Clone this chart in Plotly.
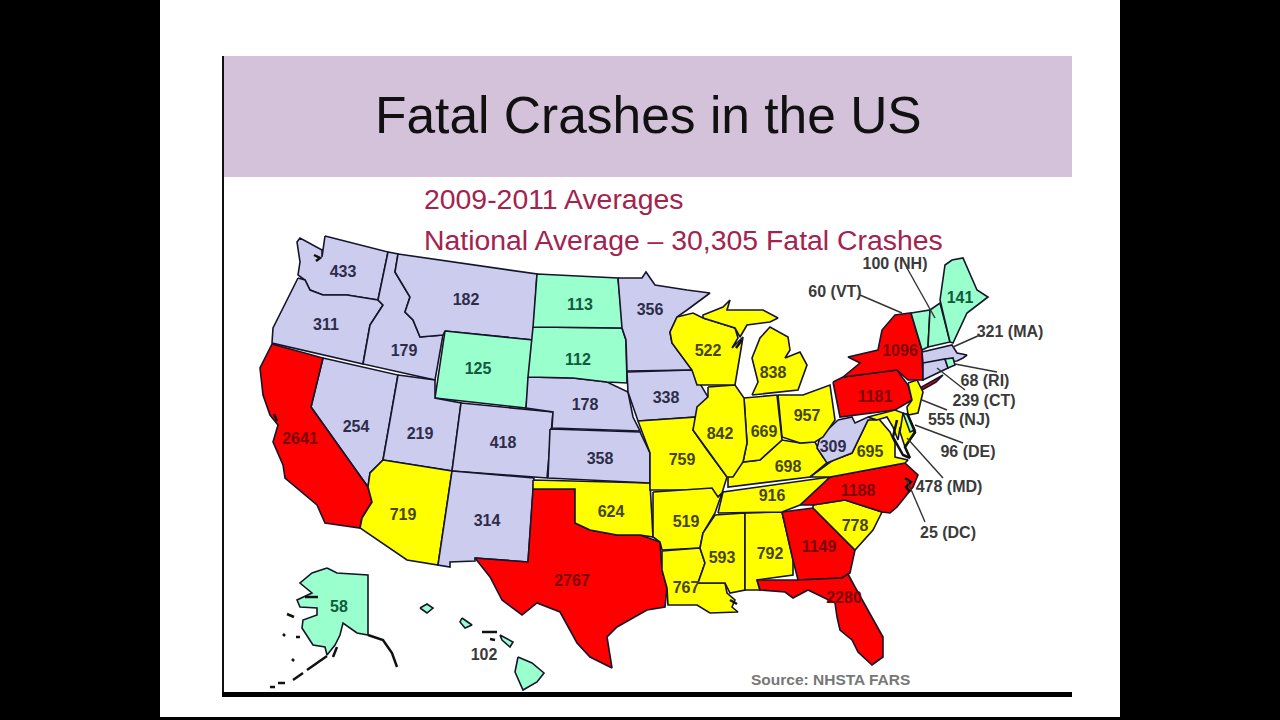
import plotly.graph_objects as go

# values
state_codes = ["WA", "OR", "CA", "NV", "ID", "MT", "WY", "UT", "CO", "AZ", "NM", "ND", "SD", "NE", "KS", "OK", "TX",
               "MN", "IA", "MO", "AR", "LA", "WI", "IL", "MS", "MI", "IN", "KY", "TN", "AL", "OH", "GA", "FL", "SC",
               "NC", "VA", "WV", "PA", "NY", "ME", "AK", "HI"]
state_values = [433, 311, 2641, 254, 179, 182, 125, 219, 418, 719, 314, 113, 112, 178, 358, 624, 2767,
                356, 338, 759, 519, 767, 522, 842, 593, 838, 669, 698, 916, 792, 957, 1149, 2280, 778,
                1188, 695, 309, 1181, 1096, 141, 58, 102]
label_x = [343, 326, 300, 356, 404, 466, 478, 420, 503, 403, 487, 580, 578, 585, 600, 611, 572,
           650, 666, 682, 686, 686, 708, 720, 722, 773, 764, 788, 772, 770, 807, 819, 844, 855,
           858, 870, 833, 875, 900, 960, 339, 484]
label_y = [273, 326, 440, 428, 352, 301, 370, 435, 444, 516, 522, 306, 361, 406, 460, 513, 582,
           311, 399, 461, 523, 589, 352, 435, 559, 374, 433, 468, 497, 555, 417, 548, 599, 527,
           492, 453, 448, 398, 352, 299, 608, 656]

small_states = ["NH", "VT", "MA", "RI", "CT", "NJ", "DE", "MD", "DC"]
small_values = [100, 60, 321, 68, 239, 555, 96, 478, 25]
small_x = [895, 835, 1010, 985, 984, 959, 968, 949, 948]
small_y = [265, 293, 333, 382, 402, 421, 453, 488, 534]

# leader lines: label end, state end
leader_x = [(907, 935), (860, 902), (980, 953), (997, 955), (965, 937), (947, 922), (963, 915), (943, 907), (925, 907)]
leader_y = [(268, 318), (295, 313), (335, 347), (372, 364), (390, 368), (410, 400), (443, 425), (478, 438), (522, 480)]

GREEN = "#99FFCC"
LAVENDER = "#CCCCEE"
YELLOW = "#FFFF00"
RED = "#FF0000"
EDGE = "#15152b"

# state outlines (no map file can be loaded without network)
OUTLINES = {
    "WA": [(325, 236), (388, 252), (378, 300), (347, 295), (323, 295), (310, 290), (305, 280), (298, 275), (300, 262),
           (297, 242), (300, 238), (322, 250), (322, 257)],
    "OR": [(298, 278), (305, 280), (310, 290), (323, 295), (347, 295), (378, 300), (383, 305), (370, 325), (363, 364),
           (272, 343), (273, 328), (283, 308)],
    "ID": [(388, 252), (398, 254), (395, 272), (410, 297), (405, 312), (413, 320), (420, 337), (443, 335), (435, 380),
           (363, 364), (370, 325), (383, 305), (378, 300)],
    "MT": [(398, 254), (537, 274), (533, 340), (445, 331), (443, 335), (420, 337), (413, 320), (405, 312), (410, 297),
           (395, 272)],
    "WY": [(445, 331), (533, 340), (526, 408), (435, 398)],
    "NV": [(323, 358), (398, 375), (383, 460), (370, 473), (368, 487), (311, 407)],
    "CA": [(272, 344), (323, 358), (311, 407), (368, 487), (372, 502), (362, 518), (360, 528), (325, 523), (317, 505),
           (297, 488), (285, 478), (283, 465), (273, 442), (278, 425), (270, 415), (263, 395), (260, 368)],
    "UT": [(398, 375), (435, 380), (435, 398), (461, 403), (452, 471), (383, 460)],
    "CO": [(461, 403), (553, 412), (547, 478), (452, 471)],
    "AZ": [(383, 460), (452, 471), (438, 565), (407, 560), (360, 528), (362, 518), (372, 502), (368, 487), (370, 473)],
    "NM": [(452, 471), (534, 478), (528, 562), (475, 558), (475, 561), (450, 562), (450, 567), (438, 565)],
    "TX": [(533, 489), (575, 489), (575, 523), (590, 530), (617, 535), (640, 535), (660, 542), (662, 570), (667, 588),
           (665, 607), (647, 610), (617, 627), (607, 637), (612, 668), (590, 657), (577, 643), (560, 612), (537, 603),
           (522, 615), (502, 600), (490, 577), (475, 558), (528, 562)],
    "OK": [(533, 480), (650, 483), (653, 537), (640, 535), (617, 535), (590, 530), (575, 523), (575, 489), (533, 489)],
    "KS": [(550, 429), (640, 432), (650, 453), (650, 483), (548, 478)],
    "NE": [(528, 377), (526, 408), (553, 412), (552, 428), (640, 431), (633, 417), (628, 392), (607, 382), (573, 378)],
    "SD": [(533, 327), (528, 377), (573, 378), (607, 382), (627, 383), (626, 340), (622, 328)],
    "ND": [(537, 274), (618, 278), (623, 328), (533, 327)],
    "MN": [(618, 278), (642, 278), (646, 272), (655, 285), (687, 290), (710, 293), (687, 310), (677, 317), (670, 332),
           (672, 343), (692, 370), (627, 371), (626, 340), (622, 328)],
    "IA": [(627, 372), (692, 370), (708, 397), (698, 407), (697, 417), (638, 421), (628, 392)],
    "MO": [(638, 421), (697, 417), (693, 430), (707, 450), (727, 477), (722, 493), (718, 497), (712, 490), (650, 490),
           (650, 453)],
    "AR": [(653, 492), (712, 488), (718, 497), (722, 493), (715, 513), (703, 533), (700, 548), (662, 550), (660, 542),
           (653, 537)],
    "LA": [(662, 551), (700, 548), (705, 563), (698, 583), (725, 583), (727, 593), (735, 600), (732, 607), (738, 612),
           (710, 613), (697, 605), (668, 605), (667, 588), (662, 570)],
    "MS": [(715, 515), (745, 513), (745, 590), (730, 593), (725, 583), (698, 583), (705, 563), (700, 548), (703, 533)],
    "AL": [(745, 513), (782, 512), (793, 560), (793, 575), (757, 580), (760, 590), (750, 590), (745, 590)],
    "GA": [(782, 512), (813, 508), (855, 550), (850, 573), (842, 578), (798, 580), (793, 560)],
    "FL": [(757, 580), (798, 580), (842, 578), (848, 574), (855, 587), (868, 610), (883, 637), (883, 657), (872, 665),
           (858, 652), (852, 640), (840, 630), (837, 617), (835, 603), (822, 597), (808, 590), (793, 598), (785, 592),
           (760, 590)],
    "SC": [(813, 505), (845, 500), (882, 512), (873, 530), (855, 550), (813, 508)],
    "NC": [(800, 505), (830, 477), (905, 463), (918, 475), (913, 487), (897, 507), (890, 513), (882, 512), (845, 500),
           (813, 505)],
    "TN": [(718, 513), (723, 492), (830, 477), (800, 505), (782, 512), (745, 513)],
    "KY": [(728, 478), (743, 462), (760, 460), (782, 440), (800, 443), (815, 442), (823, 457), (830, 460), (810, 477),
           (728, 487)],
    "VA": [(810, 477), (833, 460), (852, 453), (868, 420), (878, 418), (890, 432), (895, 443), (895, 457), (908, 460),
           (905, 463), (830, 477)],
    "WV": [(838, 420), (852, 417), (855, 423), (868, 417), (877, 420), (868, 420), (852, 453), (827, 463), (817, 448),
           (820, 437)],
    "OH": [(778, 395), (803, 395), (830, 385), (835, 420), (823, 437), (815, 442), (800, 443), (782, 437)],
    "IN": [(744, 398), (777, 395), (782, 440), (760, 460), (743, 462), (747, 443)],
    "IL": [(708, 387), (735, 385), (744, 398), (747, 443), (743, 462), (733, 477), (727, 477), (707, 450), (693, 430),
           (697, 407), (708, 397)],
    "WI": [(677, 317), (693, 313), (703, 318), (735, 328), (738, 338), (732, 348), (743, 337), (735, 385), (697, 385),
           (692, 370), (672, 343), (670, 332)],
    "MI": [(752, 395), (758, 382), (752, 358), (760, 338), (770, 327), (788, 337), (790, 350), (785, 358), (800, 352),
           (807, 365), (798, 390)],
    "MI2": [(703, 318), (703, 315), (723, 307), (730, 300), (727, 310), (763, 310), (778, 318), (770, 322), (747, 325),
            (740, 337), (735, 328)],
    "PA": [(833, 382), (843, 377), (897, 370), (908, 385), (912, 400), (895, 410), (840, 417)],
    "NY": [(843, 377), (860, 363), (848, 357), (878, 350), (882, 330), (895, 315), (911, 313), (922, 350), (923, 380),
           (908, 380), (897, 370)],
    "NY2": [(920, 388), (943, 375), (936, 382), (922, 390)],
    "VT": [(911, 313), (930, 310), (928, 347), (922, 350)],
    "NH": [(930, 310), (940, 303), (950, 342), (928, 347)],
    "ME": [(940, 300), (945, 265), (952, 260), (963, 258), (977, 290), (988, 297), (967, 313), (953, 343), (950, 342)],
    "MA": [(922, 352), (952, 345), (957, 353), (967, 355), (963, 358), (957, 361), (923, 363)],
    "CT": [(923, 363), (945, 359), (948, 368), (923, 380)],
    "RI": [(945, 359), (953, 358), (955, 365), (948, 368)],
    "NJ": [(908, 383), (917, 380), (923, 392), (918, 413), (908, 415), (907, 407), (912, 400)],
    "MD": [(868, 417), (895, 410), (903, 413), (910, 432), (915, 433), (912, 437), (900, 427), (898, 440), (893, 427),
           (887, 417), (877, 420)],
    "MD2": [(903, 413), (915, 432), (905, 447), (900, 432)],
    "DE": [(903, 413), (908, 415), (915, 430), (910, 432)],
    "AK": [(327, 568), (337, 573), (368, 575), (368, 635), (357, 633), (343, 623), (340, 635), (335, 645), (327, 655),
           (325, 647), (313, 645), (302, 628), (303, 620), (317, 615), (317, 608), (300, 607), (297, 600), (312, 593),
           (300, 583), (312, 573)],
    "HI": [(518, 657), (532, 663), (544, 673), (537, 682), (523, 690), (515, 672)],
    "HI2": [(500, 635), (513, 642), (510, 647), (502, 640)],
    "HI3": [(462, 618), (472, 625), (465, 628), (460, 622)],
    "HI4": [(420, 608), (427, 604), (433, 608), (427, 613)],
}

# bits of coast that are only a dark line in the picture
coast_lines = [
    [(368, 635), (383, 640), (392, 653), (397, 667)],
    [(327, 656), (307, 670)],
    [(303, 673), (293, 680)],
    [(285, 683), (278, 683)],
    [(275, 687), (270, 687)],
    [(287, 614), (294, 617)],
    [(283, 634), (285, 636)],
    [(296, 637), (300, 637)],
    [(292, 659), (294, 661)],
    [(333, 657), (337, 647)],
    [(305, 597), (318, 597)],
    [(482, 632), (497, 632)],
    [(490, 639), (495, 640)],
    [(314, 255), (320, 258), (316, 261)],
    [(274, 414), (277, 421)],
    [(897, 420), (893, 437), (903, 455), (910, 458)],
    [(907, 413), (915, 432), (905, 447), (910, 458)],
    [(905, 478), (911, 482), (906, 487), (910, 492)],
    [(730, 600), (737, 604)],
    [(736, 348), (742, 340)],
]


def bin_color(v):
    if v < 150:
        return GREEN
    if v < 450:
        return LAVENDER
    if v < 1000:
        return YELLOW
    return RED


def text_color(code, v):
    if code == "HI":
        return "#3a3a3a"
    c = bin_color(v)
    if c == GREEN:
        return "#0f5a3c"
    if c == LAVENDER:
        return "#2d2d4a"
    if c == YELLOW:
        return "#45450a"
    return "#7a0505"


fill_by_state = dict(zip(state_codes + small_states, state_values + small_values))

fig = go.Figure()

for code, pts in OUTLINES.items():
    fig.add_trace(go.Scatter(
        x=[p[0] for p in pts] + [pts[0][0]],
        y=[p[1] for p in pts] + [pts[0][1]],
        mode="lines",
        fill="toself",
        fillcolor=bin_color(fill_by_state[code[:2]]),
        line=dict(color=EDGE, width=1.6),
        hoverinfo="skip",
        showlegend=False,
    ))

for pts in coast_lines:
    fig.add_trace(go.Scatter(
        x=[p[0] for p in pts], y=[p[1] for p in pts], mode="lines",
        line=dict(color="#111111", width=2.5), hoverinfo="skip", showlegend=False,
    ))

for lx, ly in zip(leader_x, leader_y):
    fig.add_trace(go.Scatter(
        x=list(lx), y=list(ly), mode="lines",
        line=dict(color="#333333", width=1.4), hoverinfo="skip", showlegend=False,
    ))

# numbers inside the states
fig.add_trace(go.Scatter(
    x=label_x, y=label_y, mode="text",
    text=[str(v) for v in state_values],
    textposition="middle center",
    textfont=dict(family="Liberation Sans", size=16, weight="bold",
                  color=[text_color(c, v) for c, v in zip(state_codes, state_values)]),
    hoverinfo="skip", showlegend=False,
))

# small states, outside the map
fig.add_trace(go.Scatter(
    x=small_x, y=small_y, mode="text",
    text=[f"{v} ({s})" for v, s in zip(small_values, small_states)],
    textposition="middle center",
    textfont=dict(family="Liberation Sans", size=16, weight="bold", color="#3a3a3a"),
    hoverinfo="skip", showlegend=False,
))

fig.update_layout(
    width=1280, height=720, autosize=False,
    margin=dict(l=0, r=0, t=0, b=0),
    paper_bgcolor="#000000", plot_bgcolor="#000000",
    xaxis=dict(range=[0, 1280], visible=False, fixedrange=True),
    yaxis=dict(range=[720, 0], visible=False, fixedrange=True),
    shapes=[
        dict(type="rect", x0=160, x1=1120, y0=0, y1=717, fillcolor="#ffffff", line_width=0, layer="below"),
        dict(type="rect", x0=223, x1=1072, y0=56, y1=177, fillcolor="#D4C2DB", line_width=0, layer="below"),
        dict(type="rect", x0=222, x1=224, y0=56, y1=697, fillcolor="#111111", line_width=0, layer="below"),
        dict(type="rect", x0=222, x1=1072, y0=692, y1=697, fillcolor="#000000", line_width=0, layer="below"),
    ],
    annotations=[
        dict(x=648, y=115, xref="x", yref="y", text="Fatal Crashes in the US", showarrow=False, xanchor="center",
             font=dict(family="Liberation Sans", size=51.5, color="#111111")),
        dict(x=422, y=199, xref="x", yref="y", text="2009-2011 Averages", showarrow=False, xanchor="left",
             font=dict(family="Liberation Sans", size=28.4, color="#A3234F")),
        dict(x=422, y=240, xref="x", yref="y", text="National Average – 30,305 Fatal Crashes", showarrow=False,
             xanchor="left", font=dict(family="Liberation Sans", size=28.4, color="#A3234F")),
        dict(x=749, y=679, xref="x", yref="y", text="<b>Source: NHSTA FARS</b>", showarrow=False, xanchor="left",
             font=dict(family="Liberation Sans", size=15.5, color="#777777")),
    ],
)

fig.write_html("out.html", config={"displayModeBar": False}, post_script="document.body.style.margin='0';")
